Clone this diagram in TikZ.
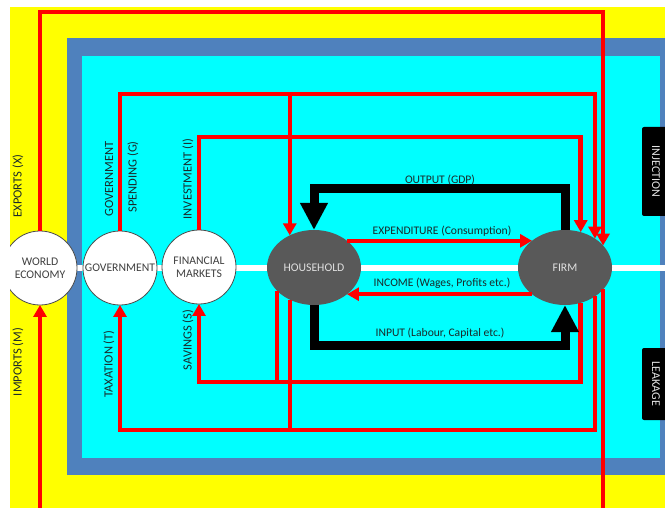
\documentclass[tikz,border=0pt]{standalone}
\usepackage{fontspec}
\setmainfont{Carlito}
\usetikzlibrary{arrows.meta, positioning, calc, shapes.geometric}
\definecolor{bgyellow}{HTML}{FFFF00}
\definecolor{borderblue}{HTML}{4F81BD}
\definecolor{areacyan}{HTML}{00FFFF}
\definecolor{flowred}{HTML}{FF0000}
\definecolor{agentgrey}{HTML}{595959}
\definecolor{labeldark}{HTML}{1A2A2A}
\tikzset{
    sector/.style={circle, draw=black!70, line width=0.8pt, fill=white, minimum size=74pt, inner sep=0pt, outer sep=0pt, align=center, font=\fontsize{11.7}{12.5}\selectfont, text=black!75},
    agent/.style={ellipse, fill=agentgrey, minimum width=94pt, minimum height=75pt, inner sep=0pt, outer sep=0pt, font=\fontsize{11.7}{12.5}\selectfont, text=white!88!black},
    flowlabel/.style={font=\fontsize{11.6}{12}\selectfont, text=labeldark, inner sep=1pt},
    sidelabel/.style={flowlabel, rotate=90, font=\fontsize{12.5}{13}\selectfont},
    tagbox/.style={fill=black, text=white!90!black, rotate=-90, rounded corners=2pt, minimum height=28pt, inner sep=0pt, font=\fontsize{12}{13}\selectfont},
    redflow/.style={draw=flowred, line width=4.5pt},
    redarrow/.style={redflow, -{Triangle[length=12pt, width=13pt]}},
    realarrow/.style={draw=black, line width=9pt, -{Triangle[length=27pt, width=26pt]}}
}

\begin{document}
\begin{tikzpicture}[x=1pt, y=-1pt]
    \useasboundingbox (0,0) rectangle (665,508);
    \begin{scope}
        \clip (10,7) rectangle (665,508);
        \fill[bgyellow] (10,7) rectangle (665,508);
        \fill[borderblue] (67,38) rectangle (670,475);
        \fill[areacyan] (82,56) rectangle (660,458);

        \coordinate (xlvl) at (0,12);
        \coordinate (glvl) at (0,94);
        \coordinate (ilvl) at (0,137);
        \coordinate (outlvl) at (0,189);
        \coordinate (inlvl) at (0,345);
        \coordinate (slvl) at (0,382);
        \coordinate (tlvl) at (0,430);
        \coordinate (mlvl) at (0,520);
        \coordinate (midleft) at (40,268);
        \coordinate (redge) at (670,268);
        \draw[white, line width=6pt] (midleft) -- (redge);

        \node[sector] (world) at (40,268) {WORLD\\ECONOMY};
        \node[sector] (gov) at (120,268) {GOVERNMENT};
        \node[sector] (fin) at (199,267) {FINANCIAL\\MARKETS};
        \node[agent] (house) at (314,267.5) {HOUSEHOLD};
        \node[agent] (firm) at (565,267.5) {FIRM};

        \draw[redarrow] (world.north) -- (world.north |- xlvl) -| (firm.30);
        \draw[redarrow] (firm.-30) -- (firm.-30 |- mlvl) -| (world.south);
        \draw[redarrow] (gov.north) -- (gov.north |- glvl) -| (firm.44);
        \draw[redarrow] (house.127 |- glvl) -- (house.127);
        \draw[redarrow] (fin.north) -- (fin.north |- ilvl) -| (firm.66);
        \draw[redarrow] (firm.-66) -- (firm.-66 |- slvl) -| (fin.south);
        \draw[redflow] (house.212) -- (house.212 |- slvl);
        \draw[redarrow] (firm.-44) -- (firm.-44 |- tlvl) -| (gov.south);
        \draw[redflow] (house.233) -- (house.233 |- tlvl);

        \draw[realarrow] (firm.north) -- (firm.north |- outlvl) -| (house.north);
        \draw[realarrow] (house.south) -- (house.south |- inlvl) -| (firm.south);
        \draw[redarrow] (house.39) -- (firm.141);
        \draw[redarrow] (firm.219) -- (house.321);

        \node[flowlabel] (outlbl) at (440,180) {OUTPUT (GDP)};
        \node[flowlabel] (explbl) at (442,231) {EXPENDITURE (Consumption)};
        \node[flowlabel] (inclbl) at (442,283) {INCOME (Wages, Profits etc.)};
        \node[flowlabel] (inplbl) at (440,333) {INPUT (Labour, Capital etc.)};

        \node[sidelabel] (exlbl) at (18,186) {EXPORTS (X)};
        \node[sidelabel] (imlbl) at (18,362) {IMPORTS (M)};
        \node[sidelabel] (govlbl) at (109,179) {GOVERNMENT};
        \node[sidelabel] (spdlbl) at (133,177) {SPENDING (G)};
        \node[sidelabel] (invlbl) at (188,179) {INVESTMENT (I)};
        \node[sidelabel] (taxlbl) at (109,364) {TAXATION (T)};
        \node[sidelabel] (savlbl) at (188,340) {SAVINGS (S)};

        \node[tagbox, minimum width=89pt] (inject) at (656,171.5) {INJECTION};
        \node[tagbox, minimum width=72pt] (leak) at (656,384) {LEAKAGE};
    \end{scope}
\end{tikzpicture}
\end{document}
